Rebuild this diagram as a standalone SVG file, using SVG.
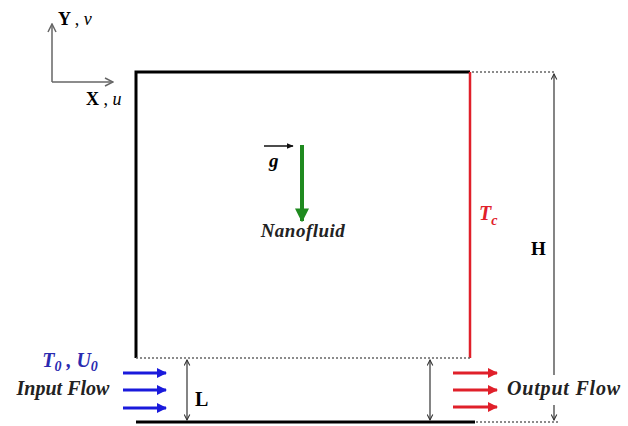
<svg xmlns="http://www.w3.org/2000/svg" width="628" height="426" viewBox="0 0 628 426">
<style>
.t{font-family:"Liberation Serif",serif;font-weight:bold;}
.i{font-style:italic;}
.dot{stroke:#666;stroke-width:1.5;stroke-dasharray:2 2;fill:none;}
.dim{stroke:#333;stroke-width:1.2;fill:none;}
</style>
<defs>
<marker id="ah" viewBox="0 0 10 10" refX="9" refY="5" markerWidth="7" markerHeight="7" orient="auto-start-reverse" markerUnits="userSpaceOnUse"><path d="M1,1 L9,5 L1,9" fill="none" stroke="#333" stroke-width="1.5"/></marker>
<marker id="ax" viewBox="0 0 10 10" refX="9" refY="5" markerWidth="10" markerHeight="10" orient="auto" markerUnits="userSpaceOnUse"><path d="M1,1 L9,5 L1,9" fill="none" stroke="#666" stroke-width="1.5"/></marker>
<marker id="bl" viewBox="0 0 10 10" refX="9" refY="5" markerWidth="10" markerHeight="10" orient="auto" markerUnits="userSpaceOnUse"><path d="M0,0 L10,5 L0,10 Z" fill="#1a1adc"/></marker>
<marker id="rd" viewBox="0 0 10 10" refX="9" refY="5" markerWidth="10" markerHeight="10" orient="auto" markerUnits="userSpaceOnUse"><path d="M0,0 L10,5 L0,10 Z" fill="#e0202a"/></marker>
<marker id="gr" viewBox="0 0 10 10" refX="9" refY="5" markerWidth="14" markerHeight="14" orient="auto" markerUnits="userSpaceOnUse"><path d="M0,0 L10,5 L0,10 Z" fill="#1f8a1f"/></marker>
<marker id="gv" viewBox="0 0 10 10" refX="9" refY="5" markerWidth="7" markerHeight="7" orient="auto" markerUnits="userSpaceOnUse"><path d="M0,1 L10,5 L0,9 Z" fill="#111"/></marker>
</defs>
<g id="axes">
<path d="M52,82 V24" stroke="#666" stroke-width="1.5" fill="none" marker-end="url(#ax)"/>
<path d="M52,82 H113" stroke="#666" stroke-width="1.5" fill="none" marker-end="url(#ax)"/>
<text class="t" x="58" y="25" font-size="18">Y <tspan font-weight="normal">, </tspan><tspan class="i" font-weight="normal">v</tspan></text>
<text class="t" x="86" y="105" font-size="18">X <tspan font-weight="normal">, </tspan><tspan class="i" font-weight="normal">u</tspan></text>
</g>
<g id="cavity">
<path d="M136,358 V72 H470" stroke="#000" stroke-width="3" fill="none"/>
<path d="M470,72 V358" stroke="#e0202a" stroke-width="2.5" fill="none"/>
<path d="M136,358 H470" class="dot"/>
<path d="M136,422 H475" stroke="#000" stroke-width="3" fill="none"/>
<path d="M472,72 H556" class="dot"/>
<path d="M476,422 H560" class="dot"/>
</g>
<g id="gravity">
<path d="M264,146 H293" stroke="#111" stroke-width="1.5" marker-end="url(#gv)"/>
<text class="t i" x="269" y="167" font-size="19">g</text>
<path d="M302,145 V221" stroke="#1f8a1f" stroke-width="4" marker-end="url(#gr)"/>
<text class="t i" x="303" y="237" font-size="19" text-anchor="middle" fill="#222" letter-spacing="0.5">Nanofluid</text>
</g>
<g id="tc">
<text class="t i" x="479" y="220" font-size="20" fill="#e0202a">T<tspan font-size="14" dy="5">c</tspan></text>
</g>
<g id="inlet">
<text class="t i" x="70" y="367" font-size="20" fill="#2a2ab0" text-anchor="middle">T<tspan font-size="14" dy="4">0</tspan><tspan dy="-4"> , U</tspan><tspan font-size="14" dy="4">0</tspan></text>
<text class="t i" x="63" y="395" font-size="20" fill="#222" text-anchor="middle">Input Flow</text>
</g>
<g id="outlet">
<text class="t i" x="564" y="395" font-size="20" fill="#222" text-anchor="middle" letter-spacing="0.8">Output Flow</text>
</g>
<g id="connectors">
<path d="M123,373 H166" stroke="#1a1adc" stroke-width="3" marker-end="url(#bl)"/>
<path d="M123,390 H166" stroke="#1a1adc" stroke-width="3" marker-end="url(#bl)"/>
<path d="M123,408 H166" stroke="#1a1adc" stroke-width="3" marker-end="url(#bl)"/>
<path d="M453,373 H497" stroke="#e0202a" stroke-width="3" marker-end="url(#rd)"/>
<path d="M453,390 H497" stroke="#e0202a" stroke-width="3" marker-end="url(#rd)"/>
<path d="M453,407 H497" stroke="#e0202a" stroke-width="3" marker-end="url(#rd)"/>
<path d="M187,360 V420" class="dim" marker-start="url(#ah)" marker-end="url(#ah)"/>
<path d="M430,360 V420" class="dim" marker-start="url(#ah)" marker-end="url(#ah)"/>
<path d="M554,375 V74" class="dim" marker-end="url(#ah)"/>
<path d="M554,405 V420" class="dim" marker-end="url(#ah)"/>
</g>
<g id="labels">
<text class="t" x="195" y="406" font-size="20">L</text>
<text class="t" x="531" y="255" font-size="19">H</text>
</g>
</svg>
